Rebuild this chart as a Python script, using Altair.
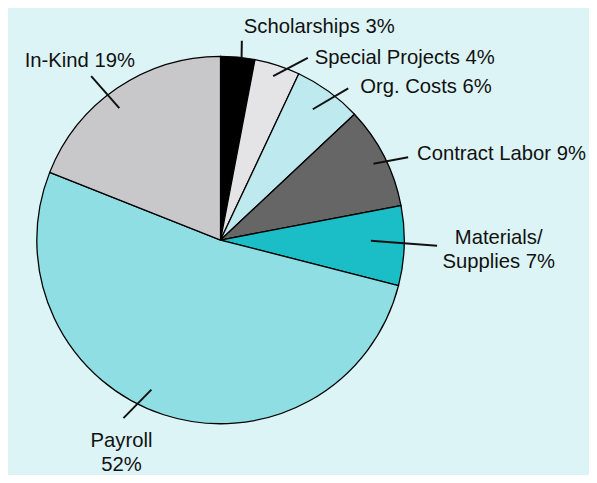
import math
import altair as alt
import pandas as pd

# ---- data ----
categories = ["Scholarships", "Special Projects", "Org. Costs", "Contract Labor",
              "Materials/Supplies", "Payroll", "In-Kind"]
shares = [3, 4, 6, 9, 7, 52, 19]
labels = ["Scholarships 3%", "Special Projects 4%", "Org. Costs 6%", "Contract Labor 9%",
          "Materials/\nSupplies 7%", "Payroll\n52%", "In-Kind 19%"]

# ---- style ----
colors = ["#000000", "#e4e4e6", "#bee9ee", "#666666", "#1bbec7", "#8edee3", "#c8c8ca"]
BG = "#ddf4f6"
R = 185.0  # pie radius in px
W, H = 585, 467
CX, CY = 214, 232  # pie centre inside the plot area (px)

# leader-line layout relative to each slice's mid angle (deg offsets, radius in R units)
leader_in_dang = [1.2, -0.2, -0.8, 0.5, -1.5, 6.8, -3.3]
leader_in_r = [0.996, 0.937, 0.871, 0.930, 0.818, 0.897, 0.905]
leader_out_dang = [0.7, 7.6, 4.1, 3.2, -0.3, 10.6, -4.1]
leader_out_r = [1.091, 1.099, 1.079, 1.116, 1.179, 1.104, 1.136]
# label offset from the leader's outer end (px, y downward)
label_dx = [2, 7, 12, 9, 62, -2, -67]
label_dy = [-8, 6, 5, 3, -2, 29, -9]
label_align = ["left", "left", "left", "left", "center", "center", "left"]

df = pd.DataFrame({"category": categories, "share": shares, "label": labels,
                   "idx": list(range(len(categories))), "align": label_align})
total = sum(shares)
cum = df["share"].cumsum()
mid = (cum - df["share"] / 2) / total * 360.0
a_in = [math.radians(m + d) for m, d in zip(mid, leader_in_dang)]
a_out = [math.radians(m + d) for m, d in zip(mid, leader_out_dang)]
df["x_in"] = [r * math.sin(a) for r, a in zip(leader_in_r, a_in)]
df["y_in"] = [r * math.cos(a) for r, a in zip(leader_in_r, a_in)]
df["x_out"] = [r * math.sin(a) for r, a in zip(leader_out_r, a_out)]
df["y_out"] = [r * math.cos(a) for r, a in zip(leader_out_r, a_out)]
df["lx"] = df["x_out"] + pd.Series(label_dx) / R
df["ly"] = df["y_out"] - pd.Series(label_dy) / R

xs = alt.Scale(domain=[-CX / R, (W - CX) / R], nice=False, zero=False)
ys = alt.Scale(domain=[-(H - CY) / R, CY / R], nice=False, zero=False)

base = alt.Chart(df)

pie = base.mark_arc(radius=R, stroke="#000000", strokeWidth=1.3).encode(
    theta=alt.Theta("share:Q", stack=True),
    order=alt.Order("idx:Q"),
    color=alt.Color("category:N", scale=alt.Scale(domain=categories, range=colors), legend=None),
    x=alt.value(CX),
    y=alt.value(CY),
)

leaders = base.mark_rule(strokeWidth=2, color="#111111").encode(
    x=alt.X("x_in:Q", scale=xs, axis=None),
    y=alt.Y("y_in:Q", scale=ys, axis=None),
    x2="x_out:Q",
    y2="y_out:Q",
)

text_kw = dict(font="Liberation Sans", fontSize=20.4, color="#111111",
               baseline="alphabetic", lineBreak="\n", lineHeight=24)

text_left = base.transform_filter(alt.datum.align == "left").mark_text(align="left", **text_kw).encode(
    x=alt.X("lx:Q", scale=xs, axis=None),
    y=alt.Y("ly:Q", scale=ys, axis=None),
    text="label:N",
)
text_center = base.transform_filter(alt.datum.align == "center").mark_text(align="center", **text_kw).encode(
    x=alt.X("lx:Q", scale=xs, axis=None),
    y=alt.Y("ly:Q", scale=ys, axis=None),
    text="label:N",
)

chart = alt.layer(pie, leaders, text_left, text_center).properties(
    width=W, height=H, padding=0, autosize="none", background=BG
).configure_view(stroke=None)

chart.save("out.html", embed_options={"renderer": "svg", "actions": False})
